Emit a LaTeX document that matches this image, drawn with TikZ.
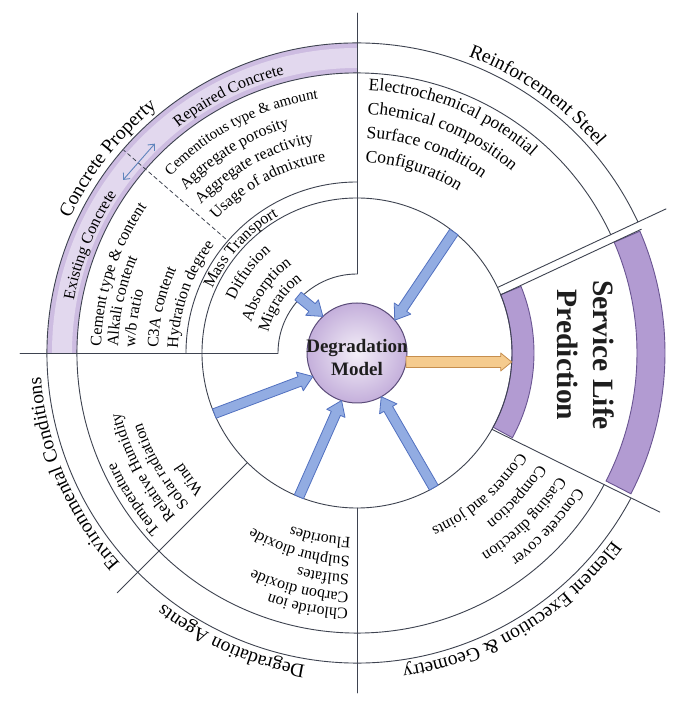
\documentclass[tikz,border=0pt]{standalone}
\usepackage{fontspec}
\setmainfont{Liberation Serif}
\usetikzlibrary{calc,decorations.text,arrows.meta}
\definecolor{ln}{HTML}{3E4350}
\definecolor{bandA}{HTML}{CDBCE1}
\definecolor{bandB}{HTML}{E2D8EE}
\definecolor{slF}{HTML}{B29BD2}
\definecolor{slE}{HTML}{6A5592}
\definecolor{blF}{HTML}{92ACE2}
\definecolor{blE}{HTML}{5271C0}
\definecolor{orF}{HTML}{F5CB8E}
\definecolor{orE}{HTML}{C68E4E}
\definecolor{dmI}{HTML}{F4EFF8}
\definecolor{dmO}{HTML}{C4AFDB}
\definecolor{dmE}{HTML}{5A4B78}
\definecolor{dbl}{HTML}{5F84BC}
\definecolor{txt}{HTML}{1E1E1E}
\newcommand\titlef{\fontsize{19.5}{22}\selectfont}
\newcommand\itemf{\fontsize{16}{19}\selectfont}
\newcommand\itemg{\fontsize{17.5}{20}\selectfont}
\newcommand\itemh{\fontsize{15}{18}\selectfont}
\newcommand\ctext[5]{\path[decorate,decoration={text along path,text align=center,text={|#4|#5}}] (#2+#3:#1pt) arc[start angle=#2+#3,end angle=#2-#3,radius=#1pt];}
\newcommand\ltext[4]{\path[decorate,decoration={text along path,text align=left,text={|#3|#4}}] (#2:#1pt) arc[start angle=#2,end angle=#2-90,radius=#1pt];}
\newcommand\barrow[6]{%
 \coordinate (ba-h) at ($(#2)!#6!(#1)$);
 \filldraw[#3] ($(#1)!#4!90:(#2)$) -- ($(ba-h)!#4!-90:(#1)$) -- ($(ba-h)!#5!-90:(#1)$) -- (#2) -- ($(ba-h)!#5!90:(#1)$) -- ($(ba-h)!#4!90:(#1)$) -- ($(#1)!#4!-90:(#2)$) -- cycle;}
\tikzset{
 ring/.style={draw=ln,line width=0.9pt},
 bluearrow/.style={fill=blF,draw=blE,line width=0.8pt,line join=round},
 orangearrow/.style={fill=orF,draw=orE,line width=0.8pt,line join=round},
 slband/.style={fill=slF,draw=slE,line width=0.9pt}
}
\begin{document}
\begin{tikzpicture}[x=1pt,y=1pt,line cap=round]
\useasboundingbox (-357,-350) rectangle (341,353);
\fill[white] (-357,-350) rectangle (341,353);
% concrete property band
\fill[bandA] (90:310pt) arc[start angle=90,end angle=180,radius=310pt] -- (180:280pt) arc[start angle=180,end angle=90,radius=280pt] -- cycle;
\fill[bandB] (90:305pt) arc[start angle=90,end angle=180,radius=305pt] -- (180:285pt) arc[start angle=180,end angle=90,radius=285pt] -- cycle;
% service life bands
\filldraw[slband] (22.1:177pt) arc[start angle=22.1,end angle=-28.6,radius=177pt] -- (-28.6:155pt) arc[start angle=-28.6,end angle=22.1,radius=155pt] -- cycle;
\filldraw[slband] (23.3:308pt) arc[start angle=23.3,end angle=-27.2,radius=308pt] -- (-27.2:280pt) arc[start angle=-27.2,end angle=23.3,radius=280pt] -- cycle;
% rings
\draw[ring] (0,0) circle[radius=155pt];
\draw[ring] (25:310pt) arc[start angle=25,end angle=332,radius=310pt];
\draw[ring] (25:280pt) arc[start angle=25,end angle=332,radius=280pt];
\draw[ring] (90:171pt) arc[start angle=90,end angle=180,radius=171pt];
\draw[ring] (90:79pt) arc[start angle=90,end angle=180,radius=79pt];
% radial lines
\draw[ring] (90:79pt) -- (90:340pt);
\draw[ring] (180:79pt) -- (180:337pt);
\draw[ring] (225:155pt) -- (225:339pt);
\draw[ring] (270:155pt) -- (270:340pt);
\draw[ring] (25:155pt) -- (25:341pt);
\draw[ring] ([shift={(3.38,-7.25)}]25:155pt) -- ([shift={(3.38,-7.25)}]25:310pt);
\draw[ring] (134.9,-76.3) -- (302.8,-159.1);
% dashed divider and double arrow
\draw[ln,line width=0.8pt,dash pattern=on 4pt off 3pt] (139:174pt) -- (139:309pt);
\coordinate (da1) at (143.5:291pt);
\coordinate (da2) at (134:291pt);
\draw[dbl,line width=0.9pt,{Straight Barb[length=5pt,width=9pt]}-{Straight Barb[length=5pt,width=9pt]}] (da1) -- (da2);
\begin{scope}[color=txt]
% titles
\ctext{317}{142}{45}{\titlef}{Concrete Property}
\ctext{317}{55}{40}{\titlef}{Reinforcement Steel}
\ctext{317}{-59}{40}{\titlef}{Element Execution {\&} Geometry}
\ctext{317}{246.5}{40}{\titlef}{Degradation Agents}
\ctext{317}{203}{40}{\titlef}{Environmental Conditions}
% band labels
\ctext{288}{158}{30}{\itemf}{Existing Concrete}
\ctext{288}{116.5}{30}{\itemf}{Repaired Concrete}
% existing concrete
\ltext{256}{178.5}{\itemf}{Cement type {\&} content}
\ltext{239}{178.5}{\itemf}{Alkali content}
\ltext{222}{178.5}{\itemf}{w/b ratio}
\ltext{199}{178.5}{\itemf}{C3A content}
\ltext{179}{178.5}{\itemf}{Hydration degree}
% repaired concrete
\ltext{257}{136.5}{\itemh}{Cementitous type {\&} amount}
\ltext{236}{136.5}{\itemf}{Aggregate porosity}
\ltext{215}{136.5}{\itemf}{Aggregate reactivity}
\ltext{194}{136.5}{\itemf}{Usage of admixture}
% mass transport
\ctext{158}{138}{40}{\itemf}{Mass Transport}
\ctext{133}{143.5}{40}{\itemf}{Diffusion}
\ctext{110}{145}{40}{\itemf}{Absorption}
\ctext{91}{147}{40}{\itemf}{Migration}
% reinforcement
\ltext{263}{87.5}{\itemg}{Electrochemical potential}
\ltext{239}{87.5}{\itemg}{Chemical composition}
\ltext{215}{87.5}{\itemg}{Surface condition}
\ltext{191}{87.5}{\itemg}{Configuration}
% degradation agents
\ltext{256}{268}{\itemf}{Chloride ion}
\ltext{240}{268}{\itemf}{Carbon dioxide}
\ltext{222}{268}{\itemf}{Sulfates}
\ltext{204}{268}{\itemf}{Sulphur dioxide}
\ltext{185}{268}{\itemf}{Fluorides}
% environmental
\ltext{265}{222}{\itemf}{Temperature}
\ltext{244}{222}{\itemf}{Relative Humidity}
\ltext{226}{222}{\itemf}{Solar radiation}
\ltext{206}{222}{\itemf}{Wind}
% element execution
\ltext{257}{-31.5}{\itemf}{Concrete cover}
\ltext{236}{-31.5}{\itemf}{Casting direction}
\ltext{213}{-31.5}{\itemf}{Compaction}
\ltext{190}{-31.5}{\itemf}{Corners and joints}
\end{scope}
% service life prediction
\node[rotate=-90,font=\bfseries\fontsize{29.5}{36}\selectfont,align=center,inner sep=0pt,text=txt] (sl) at (229,-2) {Service Life\\Prediction};
% degradation model
\node[circle,minimum size=100pt,inner sep=0pt,outer sep=0pt,draw=dmE,line width=1pt,inner color=dmI,outer color=dmO] (dm) at (0,0) {};
\node[font=\bfseries\fontsize{19}{23}\selectfont,align=center,inner sep=0pt,text=txt] (dmt) at (0,-5) {Degradation\\Model};
% arrows
\coordinate (s1) at (136:82pt);
\coordinate (s2) at (51.3:155pt);
\coordinate (s3) at (203:155pt);
\coordinate (s4) at (248:155pt);
\coordinate (s5) at (-60.3:155pt);
\barrow{s1}{dm.133}{bluearrow}{5pt}{10pt}{14pt}
\barrow{s2}{dm.41}{bluearrow}{5pt}{10pt}{14pt}
\barrow{s3}{dm.208}{bluearrow}{5pt}{10pt}{14pt}
\barrow{s4}{dm.252}{bluearrow}{5pt}{10pt}{14pt}
\barrow{s5}{dm.-61}{bluearrow}{5pt}{10pt}{14pt}
\coordinate (o1) at (49,-9);
\coordinate (o2) at (154.7,-9);
\barrow{o1}{o2}{orangearrow}{5.5pt}{9pt}{11pt}
\end{tikzpicture}
\end{document}
